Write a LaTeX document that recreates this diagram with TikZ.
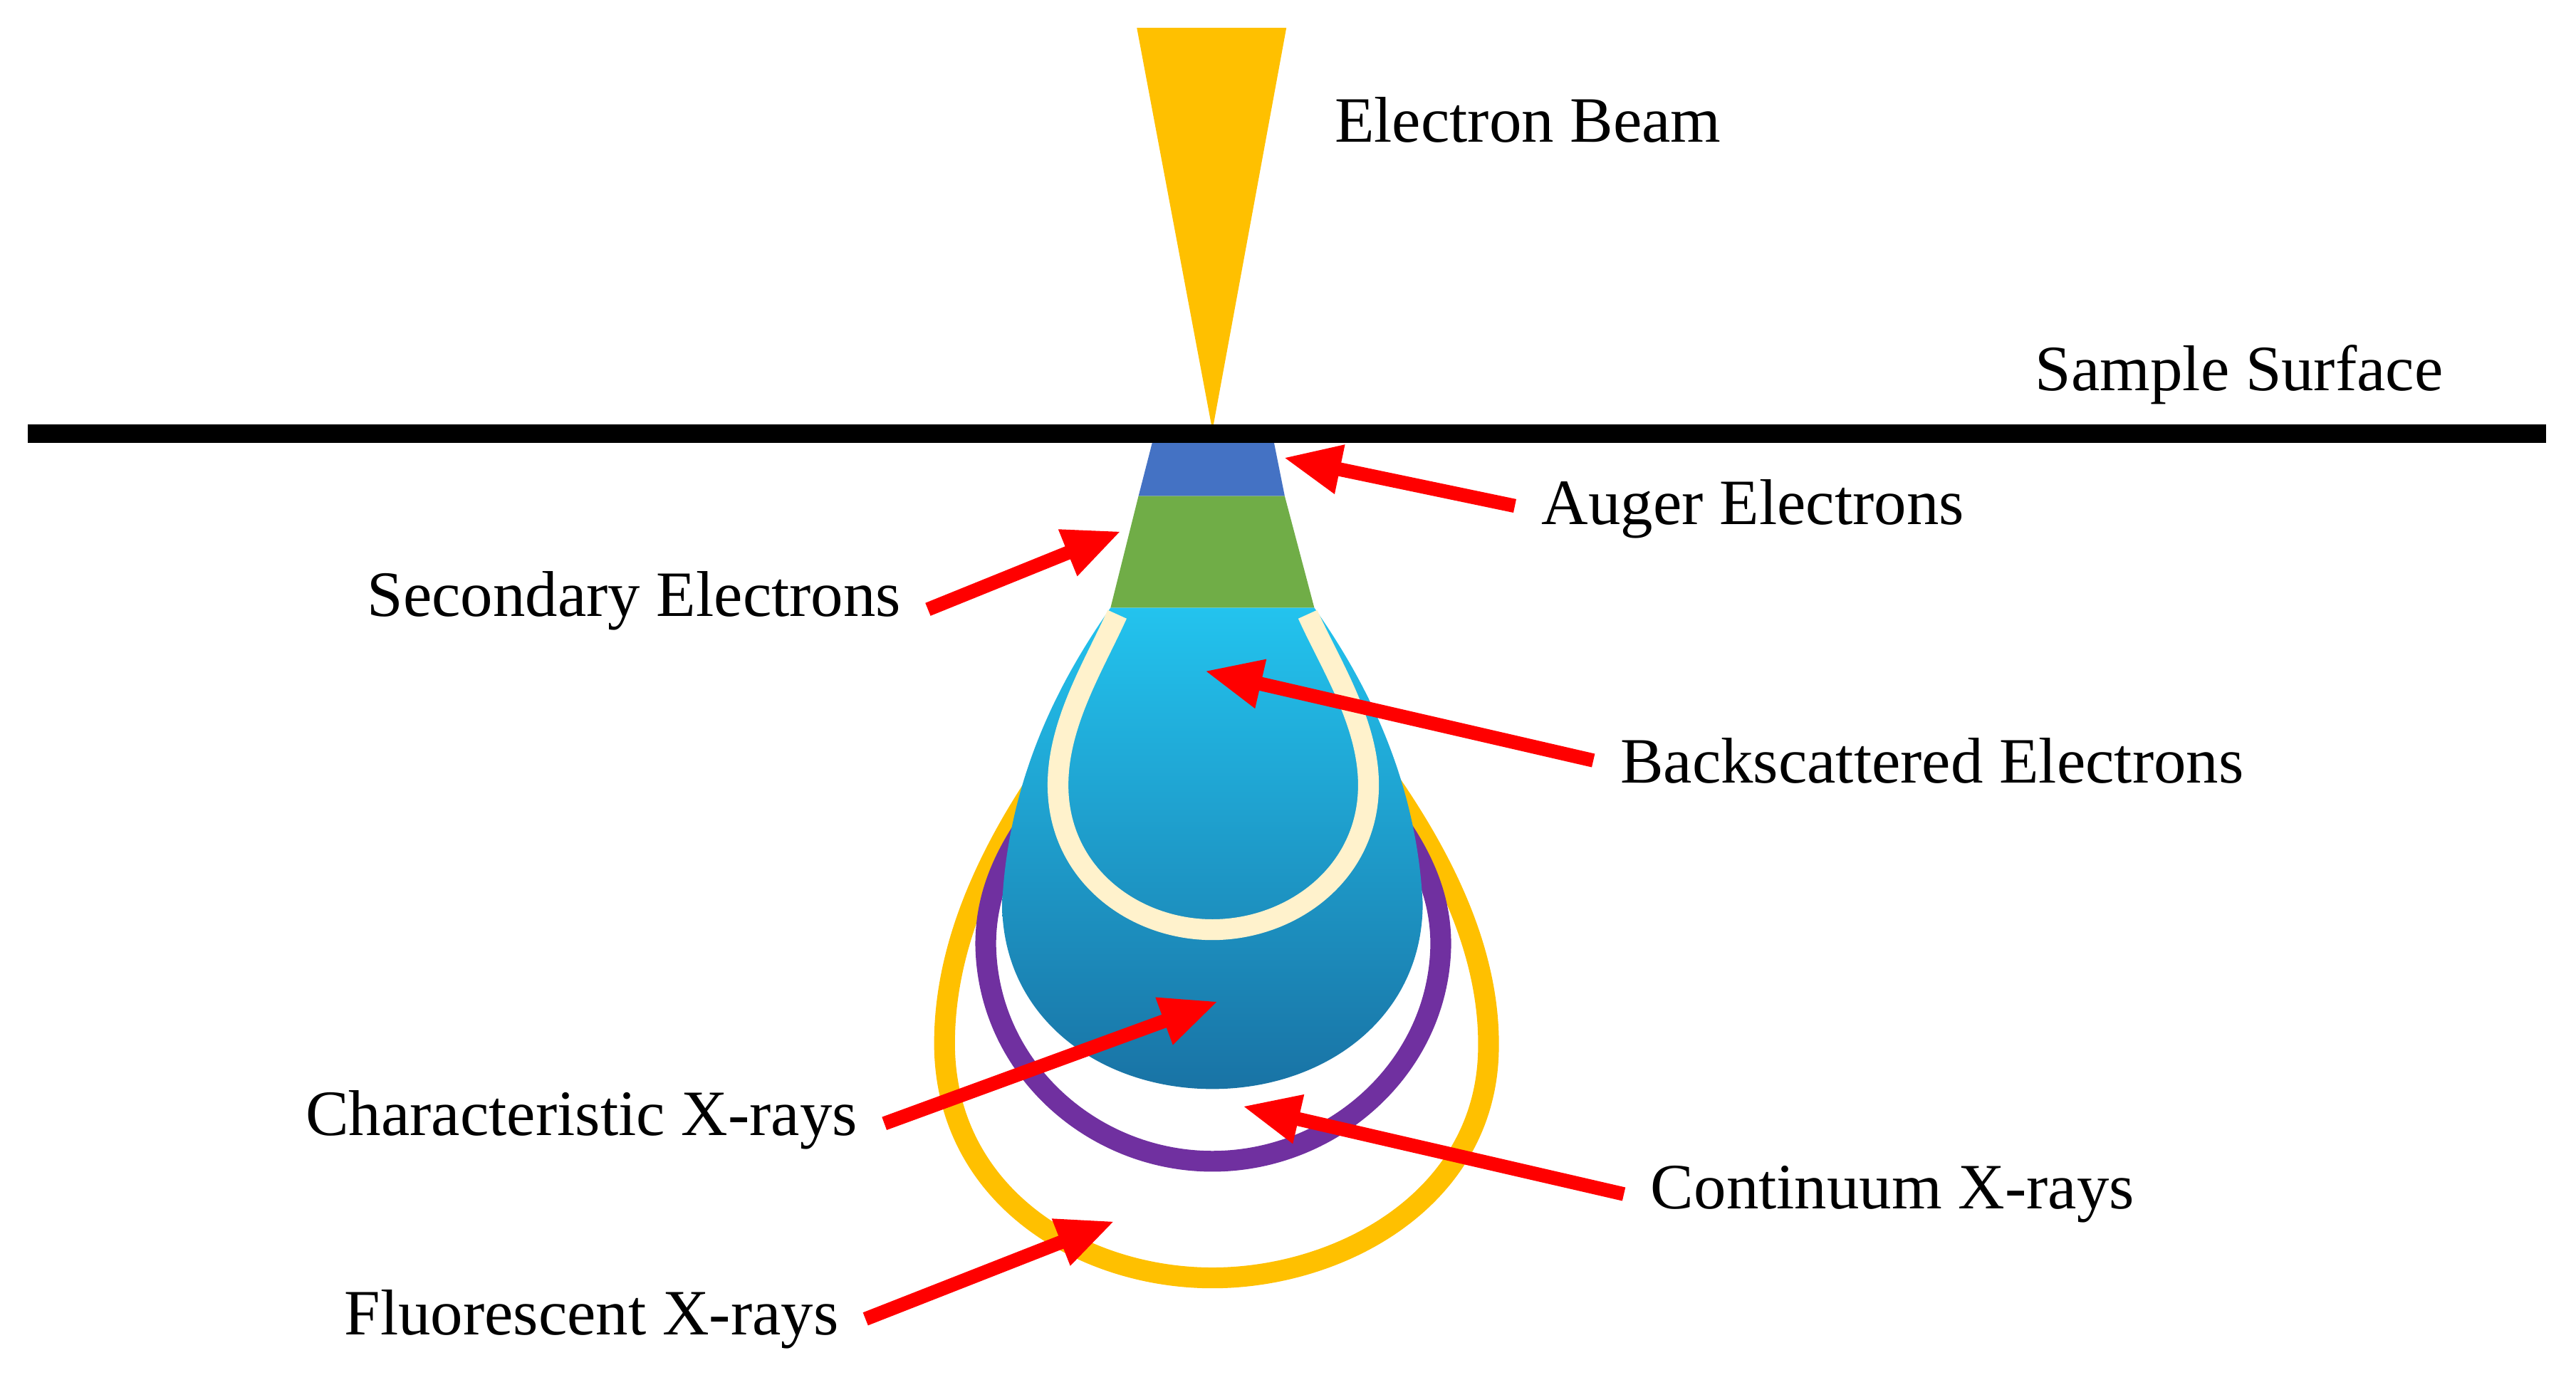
\documentclass[tikz,border=0pt]{standalone}
\usepackage{fontspec}
\setmainfont{Liberation Serif}
\usetikzlibrary{arrows.meta}
\definecolor{beamorange}{RGB}{255,192,0}
\definecolor{augerblue}{RGB}{68,114,196}
\definecolor{secgreen}{RGB}{112,173,71}
\definecolor{creamline}{RGB}{255,242,204}
\definecolor{contpurple}{RGB}{112,48,160}
\definecolor{droptop}{RGB}{35,195,238}
\definecolor{dropbottom}{RGB}{25,115,165}
\begin{document}
\begin{tikzpicture}[
        x=0.01cm, y=-0.01cm,
        label/.style = {font=\fontsize{11.2}{13}\selectfont},
        arrow/.style = {-{Triangle[length=10pt,width=8pt]}, red, line width=2.4pt, shorten >=-2pt},
        loop/.style = {line width=3.6pt}
        ]
    \useasboundingbox (0,0) rectangle (1568,837);

    % Zonen
    \draw[loop, beamorange] (690,400) .. controls (620,480) and (573,560) .. (575,640)
        .. controls (578,730) and (660,778) .. (738,778)
        .. controls (816,778) and (904,730) .. (906,640)
        .. controls (908,560) and (856,480) .. (786,400);
    \draw[loop, contpurple] (690,430) .. controls (625,490) and (600,530) .. (600,575)
        .. controls (601,650) and (665,707) .. (738,707)
        .. controls (811,707) and (876,650) .. (877,575)
        .. controls (877,530) and (851,490) .. (786,430);
    \shade[top color=droptop, bottom color=dropbottom]
        (676,370) -- (800,370) .. controls (828,410) and (862,470) .. (866,550)
        .. controls (866,620) and (806,663) .. (738,663)
        .. controls (670,663) and (610,620) .. (610,550)
        .. controls (614,470) and (648,410) .. (676,370) -- cycle;
    \draw[loop, creamline] (680,374) .. controls (666,405) and (644,440) .. (644,478)
        .. controls (644,532) and (690,566) .. (738,566)
        .. controls (786,566) and (833,532) .. (833,478)
        .. controls (833,440) and (810,405) .. (796,374);
    \fill[augerblue] (702,267) -- (775,267) -- (782,302) -- (693,302) -- cycle;
    \fill[secgreen] (693,302) -- (782,302) -- (800,370) -- (676,370) -- cycle;

    % Strahl und Oberflaeche
    \fill[beamorange] (692,17) -- (783,17) -- (738,262) -- cycle;
    \draw[line width=3.2pt] (17,264) -- (1550,264);

    % Beschriftungen
    \node[label] (beam) at (930,73) {Electron Beam};
    \node[label] (surface) at (1363,228) {Sample Surface};
    \node[label] (auger) at (1067,310) {Auger Electrons};
    \node[label] (secondary) at (386,366) {Secondary Electrons};
    \node[label] (backsc) at (1176,463) {Backscattered Electrons};
    \node[label] (charact) at (354,682) {Characteristic X-rays};
    \node[label] (contin) at (1152,727) {Continuum X-rays};
    \node[label] (fluor) at (360,803) {Fluorescent X-rays};

    % Pfeilspitzen
    \coordinate (augertip) at (788,280);
    \coordinate (secondarytip) at (676,326);
    \coordinate (backsctip) at (740,410);
    \coordinate (characttip) at (735,612);
    \coordinate (contintip) at (763,675);
    \coordinate (fluortip) at (672,746);

    % Pfeile
    \draw[arrow] (auger.west) ++(-4,-2) -- (augertip);
    \draw[arrow] (secondary.east) ++(4,5) -- (secondarytip);
    \draw[arrow] (backsc.west) ++(-4,0) -- (backsctip);
    \draw[arrow] (charact.east) ++(4,2) -- (characttip);
    \draw[arrow] (contin.west) ++(-4,0) -- (contintip);
    \draw[arrow] (fluor.east) ++(4,0) -- (fluortip);

\end{tikzpicture}
\end{document}
